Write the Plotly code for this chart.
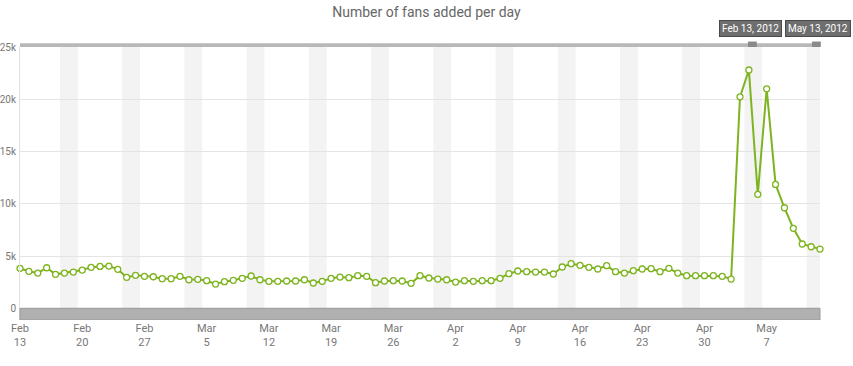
import datetime as dt
import plotly.graph_objects as go

# ---- data ----
start_date = "2012-02-13"
fans_added = [
    3820, 3540, 3370, 3880, 3250, 3370, 3470, 3660, 3920, 4010,
    4040, 3730, 2960, 3150, 3060, 3020, 2830, 2830, 3060, 2730,
    2770, 2640, 2320, 2550, 2680, 2870, 3090, 2730, 2580, 2580,
    2610, 2610, 2730, 2420, 2580, 2870, 2990, 2930, 3120, 3060,
    2450, 2610, 2640, 2610, 2390, 3120, 2900, 2800, 2730, 2510,
    2640, 2580, 2640, 2640, 2870, 3310, 3570, 3500, 3470, 3470,
    3280, 3950, 4270, 4110, 3920, 3760, 4080, 3500, 3370, 3600,
    3760, 3790, 3500, 3820, 3370, 3120, 3120, 3120, 3120, 3060,
    2800, 20230, 22800, 10900, 21000, 11850, 9620, 7650, 6150, 5890,
    5670,
]
tick_dates = ["2012-02-13", "2012-02-20", "2012-02-27", "2012-03-05", "2012-03-12",
              "2012-03-19", "2012-03-26", "2012-04-02", "2012-04-09", "2012-04-16",
              "2012-04-23", "2012-04-30", "2012-05-07"]
tick_labels = ["Feb<br>13", "Feb<br>20", "Feb<br>27", "Mar<br>5", "Mar<br>12",
               "Mar<br>19", "Mar<br>26", "Apr<br>2", "Apr<br>9", "Apr<br>16",
               "Apr<br>23", "Apr<br>30", "May<br>7"]
y_ticks = [0, 5000, 10000, 15000, 20000, 25000]
y_tick_labels = ["0", "5k", "10k", "15k", "20k", "25k"]
range_labels = ["Feb 13, 2012", "May 13, 2012"]
title_text = "Number of fans added per day"

d0 = dt.date.fromisoformat(start_date)
dates = [d0 + dt.timedelta(days=i) for i in range(len(fans_added))]
x_start = dt.datetime.combine(dates[0], dt.time())
x_end = dt.datetime.combine(dates[-1], dt.time())

FONT = "Roboto, Liberation Sans, sans-serif"
GREEN = "#7db41f"

fig = go.Figure()
fig.add_trace(go.Scatter(
    x=dates, y=fans_added, mode="lines+markers",
    line=dict(color=GREEN, width=2),
    marker=dict(size=6, color="white", line=dict(color=GREEN, width=1.3)),
    hoverinfo="x+y", showlegend=False, cliponaxis=False,
))

shapes = []
# weekend bands
for d in dates:
    if d.weekday() == 5:
        x0 = dt.datetime.combine(d, dt.time()) - dt.timedelta(hours=12)
        x1 = min(x0 + dt.timedelta(days=2), x_end)
        shapes.append(dict(type="rect", xref="x", yref="y", x0=x0, x1=x1,
                           y0=0, y1=25000, fillcolor="#f3f3f3", line=dict(width=0),
                           layer="below"))
# bottom navigator bar
shapes.append(dict(type="rect", xref="paper", yref="y", x0=0, x1=1, y0=-1120, y1=0,
                   fillcolor="#b0b0b0", line=dict(color="#9a9a9a", width=1)))
# top bar
shapes.append(dict(type="rect", xref="paper", yref="paper", x0=0, x1=1, y0=1.0, y1=1.014,
                   fillcolor="#b8b8b8", line=dict(width=0)))
# small handles
for hx in (0.91, 0.99):
    shapes.append(dict(type="rect", xref="paper", yref="paper", x0=hx, x1=hx + 0.011,
                       y0=1.0, y1=1.02, fillcolor="#8a8a8a", line=dict(width=0)))
# right scrollbar area
shapes.append(dict(type="rect", xref="paper", yref="paper", x0=1.0425, x1=1.06,
                   y0=-0.2, y1=1.2, fillcolor="#f7f7f7", line=dict(color="#dddddd", width=1)))
shapes.append(dict(type="rect", xref="paper", yref="paper", x0=1.0425, x1=1.05,
                   y0=-0.2, y1=1.2, fillcolor="#eeeeee", line=dict(color="#d5d5d5", width=1)))

annotations = []
for lbl, ax in zip(range_labels, (0.9125, 0.9975)):
    annotations.append(dict(text=lbl, xref="paper", yref="paper", x=ax, y=1.068,
                            showarrow=False, xanchor="center", yanchor="middle",
                            font=dict(color="white", size=10, family=FONT),
                            bgcolor="#6e6e6e", bordercolor="#4a4a4a", borderwidth=1,
                            borderpad=2))

fig.update_layout(
    width=853, height=366,
    margin=dict(l=20, r=33, t=47, b=46, autoexpand=False),
    paper_bgcolor="white", plot_bgcolor="white",
    title=dict(text=title_text, x=0.5, xref="container", y=0.967, yanchor="middle",
               font=dict(family=FONT, size=14, color="#666666")),
    xaxis=dict(range=[x_start, x_end], tickvals=tick_dates, ticktext=tick_labels,
               showgrid=False, zeroline=False, ticks="", showline=False,
               tickfont=dict(family=FONT, size=11, color="#777777")),
    yaxis=dict(range=[-1120, 25000], tickvals=y_ticks, ticktext=y_tick_labels,
               showgrid=True, gridcolor="#e4e4e4", gridwidth=1, zeroline=False,
               showline=True, linecolor="#e0e0e0", ticks="", ticklabelstandoff=1,
               tickfont=dict(family=FONT, size=10, color="#777777")),
    shapes=shapes, annotations=annotations,
)

fig.write_html("out.html", config={"displayModeBar": False},
               post_script="document.body.style.margin='0';document.body.style.overflow='hidden';")
